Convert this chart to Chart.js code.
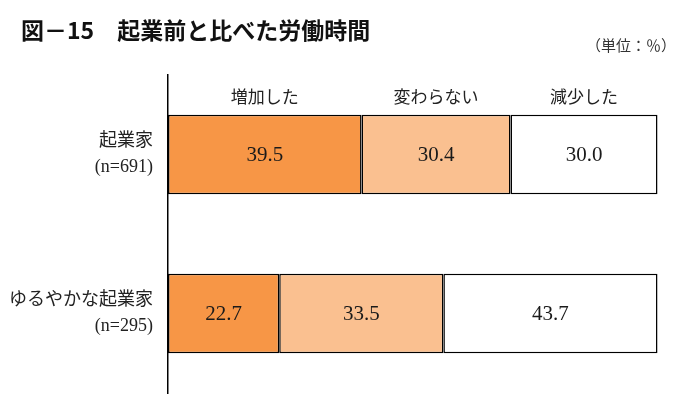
<!DOCTYPE html>
<html lang="ja">
<head>
<meta charset="utf-8">
<script src="https://cdn.jsdelivr.net/npm/chart.js@4/dist/chart.umd.min.js"></script>
<style>
    html, body { margin: 0; padding: 0; background: #fff; overflow: hidden; }
    canvas { display: block; }
</style>
</head>
<body>
<canvas id="chart" width="675" height="396"></canvas>
<script>
// 図－15 起業前と比べた労働時間（単位：％）
const titleText = '図－15　起業前と比べた労働時間';
const unitText = '（単位：％）';
const categories = [['起業家', '(n=691)'], ['ゆるやかな起業家', '(n=295)']];
const seriesNames = ['増加した', '変わらない', '減少した'];
const increased = [39.5, 22.7];
const unchanged = [30.4, 33.5];
const decreased = [30.0, 43.7];
const seriesColors = ['#F79646', '#FAC090', '#FFFFFF'];

const serif = '"Liberation Serif", "Noto Sans CJK JP", serif';
const cjk = '"Noto Sans CJK JP", sans-serif';

// タイトル・単位・系列名・数値ラベルを描く
const labelPlugin = {
    id: 'labelPlugin',
    afterDatasetsDraw(chart) {
        const c = chart.ctx;
        c.save();
        c.fillStyle = '#111';
        c.textBaseline = 'middle';

        c.font = 'bold 23px ' + cjk;
        c.textAlign = 'left';
        c.fillText(titleText, 21, 30);

        c.font = '15px ' + cjk;
        c.textAlign = 'right';
        c.fillStyle = '#333';
        c.fillText(unitText, 676, 45);

        // 系列名は1本目の棒の各区間の中央に置く
        c.font = '17px ' + cjk;
        c.textAlign = 'center';
        c.fillStyle = '#222';
        chart.data.datasets.forEach((ds, i) => {
            const bar = chart.getDatasetMeta(i).data[0];
            c.fillText(ds.label, (bar.base + bar.x) / 2, 97);
        });

        // 数値
        c.font = '21px ' + serif;
        c.fillStyle = '#1a1a1a';
        chart.data.datasets.forEach((ds, i) => {
            chart.getDatasetMeta(i).data.forEach((bar, j) => {
                const cx = (bar.base + bar.x) / 2;
                c.fillText(ds.data[j].toFixed(1), cx, bar.y + 1);
            });
        });
        c.restore();
    }
};

const datasets = [increased, unchanged, decreased].map((vals, i) => ({
    label: seriesNames[i],
    data: vals,
    backgroundColor: seriesColors[i],
    borderColor: '#000',
    borderWidth: 1.5,
    borderSkipped: false,
    categoryPercentage: 1,
    barPercentage: 0.5
}));

new Chart(document.getElementById('chart'), {
    type: 'bar',
    data: { labels: categories, datasets: datasets },
    options: {
        indexAxis: 'y',
        responsive: false,
        animation: false,
        layout: { padding: { top: 75, right: 17, bottom: 3, left: 0 } },
        scales: {
            x: {
                stacked: true,
                min: 0,
                max: 100,
                display: false
            },
            y: {
                stacked: true,
                grid: { display: false, drawTicks: false },
                border: { display: true, color: '#000', width: 1.5 },
                ticks: {
                    color: '#222',
                    padding: 15,
                    font: { family: serif, size: 18, lineHeight: 1.42 }
                },
                afterFit: (axis) => {
                    axis.width = 168;
                    axis.paddingTop = 0;
                    axis.paddingBottom = 0;
                }
            }
        },
        plugins: {
            legend: { display: false },
            tooltip: { enabled: false }
        }
    },
    plugins: [labelPlugin]
});
</script>
</body>
</html>
